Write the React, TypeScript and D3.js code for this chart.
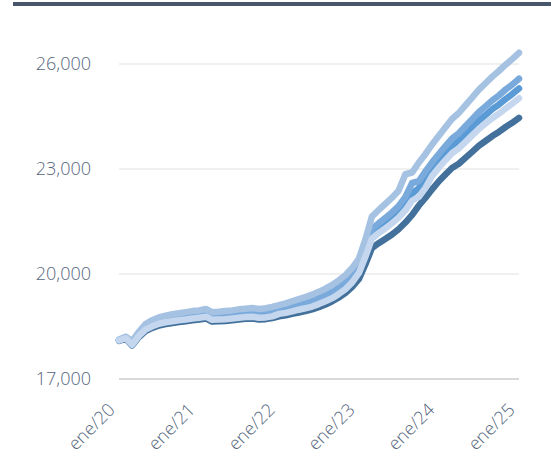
import React from "react";
import * as d3 from "d3";

const yTicks = [17000, 20000, 23000, 26000];
const xTickLabels = ["ene/20", "ene/21", "ene/22", "ene/23", "ene/24", "ene/25"];
const startYear = 2020;

const seriesDark = [
  18090, 18150, 17960, 18200, 18370, 18460, 18530, 18570, 18600, 18630, 18650, 18680,
  18700, 18730, 18640, 18650, 18660, 18680, 18700, 18720, 18730, 18700, 18710, 18740,
  18790, 18820, 18860, 18900, 18940, 18990, 19050, 19130, 19220, 19330, 19460, 19630,
  19860, 20300, 20740, 20880, 21000, 21130, 21280, 21470, 21690, 21950, 22180, 22420,
  22650, 22850, 23030, 23150, 23320, 23490, 23660, 23800, 23940, 24060, 24200, 24320,
  24460,
];
const seriesMid = [
  18110, 18175, 18000, 18260, 18450, 18560, 18640, 18690, 18720, 18750, 18780, 18810,
  18830, 18860, 18770, 18780, 18790, 18810, 18830, 18850, 18860, 18830, 18840, 18870,
  18970, 19000, 19050, 19090, 19130, 19190, 19250, 19340, 19440, 19560, 19690, 19880,
  20120, 20620, 21150, 21310, 21450, 21600, 21780, 21990, 22300, 22450, 22740, 23000,
  23240, 23460, 23660, 23800, 24000, 24190, 24380, 24540, 24710, 24840, 25000, 25140,
  25300,
];
const seriesSoft = [
  18115, 18190, 18030, 18290, 18490, 18600, 18690, 18740, 18770, 18800, 18830, 18860,
  18880, 18910, 18820, 18830, 18840, 18860, 18880, 18900, 18910, 18880, 18890, 18920,
  19020, 19060, 19110, 19150, 19200, 19250, 19320, 19410, 19510, 19630, 19770, 19960,
  20210, 20730, 21280, 21450, 21600, 21760, 21940, 22200, 22600, 22650, 22930, 23190,
  23430, 23660, 23870, 24020, 24220, 24420, 24620, 24790, 24960, 25100, 25270, 25410,
  25580,
];
const seriesTop = [
  18130, 18210, 18080, 18350, 18570, 18680, 18760, 18810, 18850, 18880, 18910, 18940,
  18960, 19000, 18910, 18920, 18940, 18960, 18990, 19010, 19030, 19000, 19020, 19060,
  19110, 19160, 19220, 19280, 19340, 19410, 19490, 19580, 19690, 19820, 19970, 20170,
  20440, 21020, 21640, 21830, 22000, 22180, 22380, 22850, 22900, 23180, 23430, 23700,
  23950, 24200, 24430, 24600, 24820, 25040, 25260, 25450, 25640, 25800, 25980, 26140,
  26320,
];
const seriesPale = [
  18100, 18165, 17980, 18230, 18410, 18505, 18580, 18620, 18650, 18680, 18700, 18730,
  18750, 18780, 18690, 18700, 18710, 18730, 18750, 18770, 18780, 18750, 18760, 18790,
  18860, 18890, 18930, 18980, 19020, 19070, 19140, 19220, 19310, 19430, 19570, 19760,
  20030, 20520, 21010, 21170, 21300, 21450, 21610, 21820, 22100, 22200, 22460, 22800,
  23040, 23260, 23450, 23590, 23770, 23960, 24140, 24300, 24450, 24580, 24730, 24870,
  25020,
];

const series = [
  { name: "dark", values: seriesDark, color: "#43719c" },
  { name: "mid", values: seriesMid, color: "#5b9bd5" },
  { name: "soft", values: seriesSoft, color: "#7aaadc" },
  { name: "top", values: seriesTop, color: "#a5c2e3" },
  { name: "pale", values: seriesPale, color: "#c5d7ee" },
];

export default function App() {
  const W = 551;
  const H = 456;
  const x = d3
    .scaleTime()
    .domain([new Date(startYear, 0, 1), new Date(startYear + 5, 0, 1)])
    .range([119, 519]);
  const y = d3.scaleLinear().domain([17000, 26000]).range([379, 64]);
  const fmt = d3.format(",");
  const line = d3
    .line<number>()
    .x((_, i) => x(new Date(startYear, i, 1)))
    .y((d) => y(d))
    .curve(d3.curveLinear);

  return (
    <svg
      width={W}
      height={H}
      style={{ position: "absolute", left: 0, top: 0, background: "#fff" }}
      fontFamily="'Open Sans', sans-serif"
    >
      <rect x={13} y={2} width={W - 13} height={4} fill="#47566b" />
      {yTicks.map((t) => (
        <g key={t}>
          <line
            x1={119}
            x2={519}
            y1={y(t)}
            y2={y(t)}
            stroke={t === 17000 ? "#d9d9d9" : "#f0f0f0"}
            strokeWidth={2}
          />
          <text
            x={91}
            y={y(t)}
            dy="0.35em"
            textAnchor="end"
            fontSize={18}
            fontWeight={300}
            fill="#56667e"
          >
            {fmt(t)}
          </text>
        </g>
      ))}
      {xTickLabels.map((lab, i) => {
        const tx = x(new Date(startYear + i, 0, 1));
        return (
          <text
            key={lab}
            transform={`translate(${tx - 3},${411}) rotate(-45)`}
            textAnchor="end"
            fontSize={18}
            fontWeight={300}
            fill="#56667e"
          >
            {lab}
          </text>
        );
      })}
      {series.map((s) => (
        <path
          key={s.name}
          d={line(s.values) || ""}
          fill="none"
          stroke={s.color}
          strokeWidth={6.5}
          strokeLinejoin="round"
          strokeLinecap="round"
        />
      ))}
    </svg>
  );
}
